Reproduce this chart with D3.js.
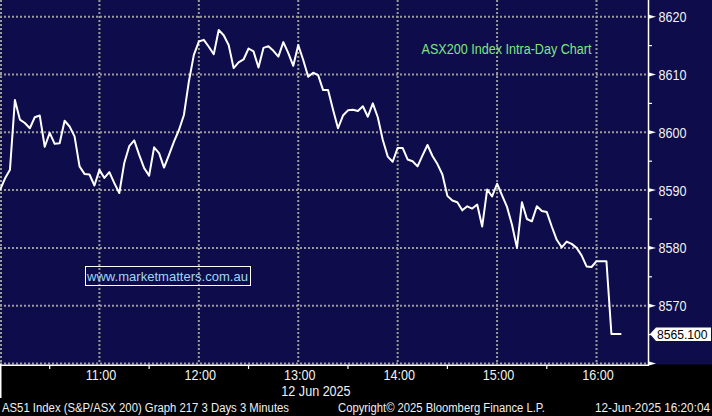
<!DOCTYPE html>
<html><head><meta charset="utf-8">
<script src="https://cdn.jsdelivr.net/npm/d3@7"></script>
<style>body{margin:0;background:#000}svg{display:block}</style>
</head><body><svg id="c" width="712" height="416"></svg>
<script>
// ---- data ----
const times = [
"10:00","10:03","10:06","10:09","10:12","10:15","10:18","10:21","10:24","10:27","10:30","10:33","10:36","10:39","10:42","10:45","10:48","10:51","10:54","10:57",
"11:00","11:03","11:06","11:09","11:12","11:15","11:18","11:21","11:24","11:27","11:30","11:33","11:36","11:39","11:42","11:45","11:48","11:51","11:54","11:57",
"12:00","12:03","12:06","12:09","12:12","12:15","12:18","12:21","12:24","12:27","12:30","12:33","12:36","12:39","12:42","12:45","12:48","12:51","12:54","12:57",
"13:00","13:03","13:06","13:09","13:12","13:15","13:18","13:21","13:24","13:27","13:30","13:33","13:36","13:39","13:42","13:45","13:48","13:51","13:54","13:57",
"14:00","14:03","14:06","14:09","14:12","14:15","14:18","14:21","14:24","14:27","14:30","14:33","14:36","14:39","14:42","14:45","14:48","14:51","14:54","14:57",
"15:00","15:03","15:06","15:09","15:12","15:15","15:18","15:21","15:24","15:27","15:30","15:33","15:36","15:39","15:42","15:45","15:48","15:51","15:54","15:57",
"16:00","16:03","16:06","16:09","16:12","16:15"];
const values = [
8590.0,8592.0,8593.5,8605.6,8602.2,8601.6,8600.7,8602.6,8602.9,8597.5,8599.9,8598.0,8598.1,8602.0,8601.0,8599.3,8594.1,8592.8,8592.7,8590.8,
8593.5,8592.1,8593.1,8591.2,8589.5,8594.7,8597.6,8598.6,8596.1,8593.8,8592.5,8597.4,8596.4,8593.9,8596.1,8598.4,8600.4,8603.0,8608.8,8613.4,
8615.7,8616.0,8614.8,8613.5,8617.7,8616.8,8615.1,8611.1,8612.1,8612.6,8614.5,8614.0,8611.2,8614.6,8614.9,8614.1,8613.1,8615.6,8613.7,8611.5,
8615.1,8612.5,8609.6,8610.3,8609.9,8607.3,8607.3,8603.9,8600.7,8602.9,8603.8,8603.9,8603.7,8604.5,8602.7,8605.0,8602.6,8598.7,8595.8,8594.9,
8597.3,8597.3,8595.3,8595.0,8594.1,8596.0,8597.8,8595.9,8594.5,8592.7,8589.0,8588.2,8587.9,8586.5,8587.2,8586.8,8587.5,8583.7,8590.1,8588.9,
8591.1,8589.1,8587.1,8584.0,8580.0,8587.9,8585.0,8584.6,8587.2,8586.4,8586.2,8583.7,8581.4,8580.1,8581.1,8580.7,8580.0,8578.7,8576.8,8576.7,
8577.7,8577.7,8577.7,8565.1,8565.1,8565.1];
const yTicks = [8560,8570,8580,8590,8600,8610,8620];
const yLabelTicks = [8570,8580,8590,8600,8610,8620];
const yMinorTicks = [8565,8575,8585,8595,8605,8615];
const xGridTimes = ["10:00","11:00","12:00","13:00","14:00","15:00","16:00"];
const xLabelTimes = ["11:00","12:00","13:00","14:00","15:00","16:00"];
const xMinorTimes = ["10:30","11:30","12:30","13:30","14:30","15:30"];
const dateLabel = "12 Jun 2025";
const lastLabel = "8565.100";
const titleText = "ASX200 Index Intra-Day Chart";
const siteText = "www.marketmatters.com.au";
const footerLeft = "AS51 Index (S&P/ASX 200) Graph 217 3 Days 3 Minutes";
const footerMid = "Copyright\u00A9 2025 Bloomberg Finance L.P.";
const footerRight = "12-Jun-2025 16:20:04";

// ---- drawing ----
const svg = d3.select("#c");
const W = 712, H = 416, plotR = 648, plotB = 363.5;
const parse = d3.timeParse("%H:%M");
const x = d3.scaleTime().domain([parse("10:00"), parse("16:00")]).range([0, 596.5]);
const y = d3.scaleLinear().domain([8560, 8620]).range([plotB, 16.7]);
const FONT = "'Liberation Sans', Arial, sans-serif";
const navy = "#0e0c4a";

svg.append("rect").attr("width", W).attr("height", H).attr("fill", "#000");
svg.append("rect").attr("width", W).attr("height", 364.5).attr("fill", navy);

const grid = svg.append("g").attr("stroke", "#9a9a9a").attr("stroke-width", 2)
  .attr("stroke-dasharray", "2,2").attr("fill", "none");
grid.selectAll("line.h").data(yTicks).join("line").attr("class", "h")
  .attr("x1", 0).attr("x2", plotR).attr("y1", d => y(d)).attr("y2", d => y(d));
grid.selectAll("line.v").data(xGridTimes).join("line").attr("class", "v")
  .attr("x1", d => Math.max(1, x(parse(d)))).attr("x2", d => Math.max(1, x(parse(d))))
  .attr("y1", 0).attr("y2", plotB);

// title and site box
svg.append("text").attr("x", 421.5).attr("y", 54).attr("fill", "#7fe67f")
  .attr("font-family", FONT).attr("font-size", 14).attr("textLength", 170)
  .attr("lengthAdjust", "spacingAndGlyphs").text(titleText);
svg.append("rect").attr("x", 85.5).attr("y", 266.5).attr("width", 165).attr("height", 19)
  .attr("fill", "none").attr("stroke", "#fff").attr("stroke-width", 1);
svg.append("text").attr("x", 87).attr("y", 281).attr("fill", "#9ed8f5")
  .attr("font-family", FONT).attr("font-size", 13.5).attr("textLength", 161)
  .attr("lengthAdjust", "spacingAndGlyphs").text(siteText);

// line
const data = times.map((t, i) => ({t: parse(t), v: values[i]}));
svg.append("path").datum(data)
  .attr("d", d3.line().x(d => x(d.t)).y(d => y(d.v)))
  .attr("fill", "none").attr("stroke", "#fff").attr("stroke-width", 2)
  .attr("stroke-linejoin", "round");

// right axis
svg.append("line").attr("x1", plotR + 0.5).attr("x2", plotR + 0.5).attr("y1", 0).attr("y2", 365)
  .attr("stroke", "#fff").attr("stroke-width", 1.5);
svg.selectAll("path.tri").data(yTicks).join("path").attr("class", "tri")
  .attr("d", d => `M${plotR},${y(d) - 2.2}L${plotR + 8},${y(d)}L${plotR},${y(d) + 2.2}Z`)
  .attr("fill", "#fff");
svg.selectAll("line.mt").data(yMinorTicks).join("line").attr("class", "mt")
  .attr("x1", plotR).attr("x2", plotR + 4).attr("y1", d => y(d)).attr("y2", d => y(d))
  .attr("stroke", "#fff").attr("stroke-width", 1.2);
const SX = 0.9;
svg.selectAll("text.yl").data(yLabelTicks).join("text").attr("class", "yl")
  .attr("transform", `scale(${SX},1)`)
  .attr("x", 658.5 / SX).attr("y", d => y(d) + 5.5)
  .attr("fill", "#f2f2f2").attr("font-family", FONT).attr("font-size", 14)
  .text(d => d);

// last value label
const ly = y(8565.1);
svg.append("path")
  .attr("d", `M650,${ly}L656,${ly - 6.5}L711,${ly - 6.5}L711,${ly + 7}L656,${ly + 7}Z`)
  .attr("fill", "#fff");
svg.append("text").attr("transform", `scale(${SX},1)`)
  .attr("x", 657 / SX).attr("y", ly + 5).attr("fill", "#000")
  .attr("font-family", FONT).attr("font-size", 13.5).text(lastLabel);

// bottom axis
svg.append("line").attr("x1", 0).attr("x2", plotR + 1).attr("y1", 365.2).attr("y2", 365.2)
  .attr("stroke", "#fff").attr("stroke-width", 1.5);
svg.append("line").attr("x1", 0.75).attr("x2", 0.75).attr("y1", 364).attr("y2", 398)
  .attr("stroke", "#fff").attr("stroke-width", 1.5);
svg.selectAll("line.xm").data(xMinorTimes).join("line").attr("class", "xm")
  .attr("x1", d => x(parse(d))).attr("x2", d => x(parse(d)))
  .attr("y1", 365).attr("y2", 369).attr("stroke", "#fff").attr("stroke-width", 1.2);
svg.selectAll("text.xl").data(xLabelTimes).join("text").attr("class", "xl")
  .attr("transform", `scale(${SX},1)`)
  .attr("x", d => (x(parse(d)) + 1.5) / SX).attr("y", 380.5).attr("text-anchor", "middle")
  .attr("fill", "#f2f2f2").attr("font-family", FONT).attr("font-size", 14).text(d => d);
svg.append("text").attr("transform", `scale(${SX},1)`)
  .attr("x", 316 / SX).attr("y", 396.5).attr("text-anchor", "middle")
  .attr("fill", "#f2f2f2").attr("font-family", FONT).attr("font-size", 14).text(dateLabel);

// footer
const foot = [[footerLeft, 2, 287], [footerMid, 338, 207], [footerRight, 595, 115]];
svg.selectAll("text.ft").data(foot).join("text").attr("class", "ft")
  .attr("x", d => d[1]).attr("y", 412.3).attr("textLength", d => d[2])
  .attr("lengthAdjust", "spacingAndGlyphs")
  .attr("fill", "#f0f0f0").attr("font-family", FONT).attr("font-size", 12).text(d => d[0]);
</script></body></html>
